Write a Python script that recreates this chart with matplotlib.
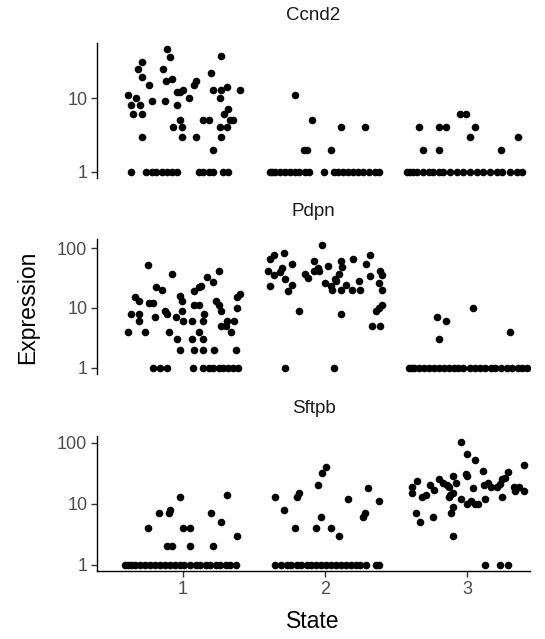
import matplotlib
matplotlib.use('Agg')
import matplotlib.pyplot as plt
from matplotlib.ticker import FixedLocator, NullLocator, FuncFormatter

plt.rcParams['font.family'] = ['Liberation Sans', 'DejaVu Sans']

genes = ['Ccnd2', 'Pdpn', 'Sftpb']
states = [1, 2, 3]

# jittered state position and expression, one pair of lists per gene
ccnd2_x = [0.89, 0.91, 0.71, 0.68, 0.86, 0.71, 0.76, 0.88, 0.92, 1.09, 1.08, 0.98, 1.00, 0.96,
           0.61, 0.67, 0.63, 0.70, 0.78, 0.87, 0.96, 1.04, 0.65, 0.71, 1.20, 1.27, 1.21, 1.27,
           1.31, 1.40, 1.26, 1.32, 1.29, 0.98, 0.93, 0.99, 1.14, 1.18, 1.33, 1.35, 1.26, 1.31,
           0.71, 0.99, 1.09, 1.27, 1.21,
           0.63, 0.74, 0.78, 0.81, 0.85, 0.89, 0.92, 0.96, 1.11, 1.14, 1.18, 1.21, 1.28, 1.32,
           1.79, 1.91, 2.11, 2.28, 1.85, 1.87, 2.04,
           1.61, 1.63, 1.65, 1.68, 1.72, 1.75, 1.79, 1.82, 1.86, 1.89, 1.99, 2.06, 2.09, 2.13,
           2.16, 2.20, 2.23, 2.27, 2.31, 2.35, 2.38,
           2.66, 2.80, 2.85, 2.95, 2.99, 3.06, 3.02, 3.36, 2.69, 2.80, 3.24,
           2.58, 2.60, 2.62, 2.65, 2.69, 2.73, 2.76, 2.80, 2.83, 2.88, 2.93, 2.97, 3.02, 3.07,
           3.11, 3.16, 3.21, 3.25, 3.30, 3.35, 3.39]
ccnd2_y = [46, 36, 31, 25, 25, 19, 15, 17, 18, 17, 15, 12, 13, 12,
           11, 10, 8, 8, 9, 9, 8, 10, 6, 6, 22, 37, 13, 13,
           14, 13, 10, 7, 6, 5, 4, 4, 5, 5, 5, 5, 4, 4,
           3, 3, 3, 3, 2,
           1, 1, 1, 1, 1, 1, 1, 1, 1, 1, 1, 1, 1, 1,
           11, 5, 4, 4, 2, 2, 2,
           1, 1, 1, 1, 1, 1, 1, 1, 1, 1, 1, 1, 1, 1,
           1, 1, 1, 1, 1, 1, 1,
           4, 4, 4, 6, 6, 4, 3, 3, 2, 2, 2,
           1, 1, 1, 1, 1, 1, 1, 1, 1, 1, 1, 1, 1, 1,
           1, 1, 1, 1, 1, 1, 1]

pdpn_x = [0.75, 0.92, 1.25, 1.17, 1.21, 1.13, 1.11, 1.08, 0.81, 0.85, 0.98, 0.99, 0.66, 0.69,
          0.76, 0.79, 1.11, 1.08, 1.23, 1.25, 1.27, 1.40, 1.38, 1.38, 0.87, 0.89, 0.99, 0.63,
          0.69, 0.80, 0.95, 1.00, 1.06, 1.15, 1.14, 0.69, 1.31, 1.36, 1.27, 1.30, 0.61, 0.73,
          0.90, 1.11, 1.34, 0.96, 1.06, 1.14, 0.98, 1.08, 1.14, 1.22, 1.37,
          0.79, 0.84, 0.89, 1.07, 1.14, 1.18, 1.21, 1.25, 1.28, 1.32, 1.35, 1.39,
          1.98, 1.61, 1.64, 1.71, 1.77, 1.60, 1.64, 1.68, 1.70, 1.61, 1.72, 1.77, 1.74, 1.86,
          1.88, 1.92, 1.92, 1.95, 1.96, 2.02, 2.00, 2.11, 2.12, 2.10, 2.07, 2.08, 2.04, 2.05,
          2.11, 2.15, 2.20, 2.19, 2.24, 2.25, 2.29, 2.32, 2.32, 2.38, 2.39, 2.40, 2.40, 2.38,
          2.40, 2.36, 2.33, 2.39, 1.82, 2.11, 1.72, 2.06,
          2.79, 2.85, 2.80, 3.04, 3.30,
          2.59, 2.61, 2.63, 2.66, 2.70, 2.73, 2.77, 2.80, 2.84, 2.87, 2.91, 2.94, 2.97, 3.02,
          3.06, 3.09, 3.13, 3.17, 3.20, 3.24, 3.28, 3.32, 3.36, 3.39, 3.42]
pdpn_y = [52, 37, 41, 33, 27, 23, 22, 19, 22, 20, 16, 13, 15, 13,
          12, 12, 11, 11, 13, 11, 9, 17, 15, 10, 9, 8, 9, 8,
          8, 7, 7, 6, 6, 8, 6, 6, 6, 6, 5, 5, 4, 4,
          4, 4, 4, 3, 3, 3, 2, 2, 2, 2, 2,
          1, 1, 1, 1, 1, 1, 1, 1, 1, 1, 1, 1,
          112, 67, 78, 83, 55, 41, 36, 40, 46, 23, 31, 24, 19, 37,
          32, 42, 62, 47, 41, 50, 26, 62, 48, 37, 31, 28, 23, 20,
          20, 24, 66, 20, 28, 20, 55, 76, 34, 26, 41, 36, 20, 10,
          11, 9, 5, 5, 9, 8, 1, 1,
          7, 6, 3, 10, 4,
          1, 1, 1, 1, 1, 1, 1, 1, 1, 1, 1, 1, 1, 1,
          1, 1, 1, 1, 1, 1, 1, 1, 1, 1, 1]

sftpb_x = [0.98, 1.31, 0.83, 0.90, 0.91, 1.20, 1.27, 0.75, 1.00, 1.05, 1.38, 0.89, 0.92, 1.05,
           1.21,
           0.59, 0.61, 0.63, 0.66, 0.70, 0.73, 0.77, 0.80, 0.84, 0.87, 0.91, 0.94, 0.98, 1.01,
           1.05, 1.09, 1.12, 1.16, 1.19, 1.23, 1.26, 1.30, 1.33, 1.37,
           1.65, 1.71, 1.80, 1.82, 1.95, 1.98, 2.01, 1.97, 1.79, 1.94, 2.04, 2.10, 2.16, 2.30,
           2.38, 2.28, 2.27,
           1.65, 1.69, 1.73, 1.76, 1.80, 1.83, 1.87, 1.90, 1.94, 1.97, 2.01, 2.04, 2.08, 2.11,
           2.15, 2.18, 2.22, 2.25, 2.29, 2.36, 2.38,
           2.96, 3.00, 3.06, 3.11, 3.40, 2.99, 3.00, 2.90, 2.92, 2.80, 2.83, 2.86, 2.87, 2.74,
           2.77, 2.65, 2.61, 2.61, 2.68, 2.71, 2.87, 2.90, 2.88, 2.96, 3.00, 3.03, 3.06, 3.08,
           3.04, 3.13, 3.12, 3.15, 3.17, 3.21, 3.23, 3.25, 3.27, 3.29, 3.25, 3.33, 3.34, 3.37,
           3.40, 2.64, 2.67, 2.76, 2.89, 2.90, 2.90,
           3.13, 3.23, 3.29]
sftpb_y = [13, 14, 7, 7, 8, 7, 5, 4, 4, 4, 3, 2, 2, 2,
           2,
           1, 1, 1, 1, 1, 1, 1, 1, 1, 1, 1, 1, 1, 1,
           1, 1, 1, 1, 1, 1, 1, 1, 1, 1,
           13, 8, 13, 15, 20, 32, 40, 6, 4, 4, 4, 3, 12, 18,
           11, 7, 6,
           1, 1, 1, 1, 1, 1, 1, 1, 1, 1, 1, 1, 1, 1,
           1, 1, 1, 1, 1, 1, 1,
           102, 65, 52, 35, 43, 31, 29, 29, 22, 25, 22, 20, 19, 20,
           17, 24, 19, 15, 13, 14, 13, 15, 14, 12, 10, 11, 10, 10,
           18, 12, 20, 22, 19, 19, 21, 25, 26, 33, 13, 19, 16, 19,
           16, 7, 5, 6, 7, 9, 3,
           1, 1, 1]

data = {'Ccnd2': (ccnd2_x, ccnd2_y), 'Pdpn': (pdpn_x, pdpn_y), 'Sftpb': (sftpb_x, sftpb_y)}

W, H = 545, 639
fig = plt.figure(figsize=(W / 100, H / 100), dpi=100)

left, right = 97, 530
tops = [43, 239, 436]
ph = 135
grey30 = '#4D4D4D'

for i, g in enumerate(genes):
    ax = fig.add_axes([left / W, 1 - (tops[i] + ph) / H, (right - left) / W, ph / H])
    x, y = data[g]
    ax.scatter(x, y, s=30, color='black', linewidths=0, zorder=3)
    ax.set_yscale('log')
    ax.set_xlim(0.394, 3.444)
    ax.margins(y=0.05)
    ymax = max(y)
    ticks = [t for t in [1, 10, 100] if t <= ymax * 1.1]
    ax.yaxis.set_major_locator(FixedLocator(ticks))
    ax.yaxis.set_minor_locator(NullLocator())
    ax.yaxis.set_major_formatter(FuncFormatter(lambda v, p: '%g' % v))
    for s in ['top', 'right']:
        ax.spines[s].set_visible(False)
    ax.spines['left'].set_linewidth(1.0)
    ax.spines['bottom'].set_linewidth(1.0)
    ax.tick_params(axis='y', length=4, width=1.0, color='#333333', labelsize=13,
                   labelcolor=grey30, pad=3)
    ax.set_xticks(states)
    if i < 2:
        ax.spines['bottom'].set_visible(False)
        ax.tick_params(axis='x', bottom=False, labelbottom=False)
    else:
        ax.tick_params(axis='x', length=4, width=1.0, color='#333333', labelsize=13,
                       labelcolor=grey30, pad=3)
    ax.annotate(g, xy=(0.5, 1), xycoords='axes fraction', xytext=(0, 20),
                textcoords='offset points', ha='center', va='center',
                fontsize=13.5, color='#1A1A1A')

fig.text(28 / W, 1 - 307 / H, 'Expression', rotation=90, ha='center', va='center', fontsize=16.5)
fig.text(313 / W, 1 - 622 / H, 'State', ha='center', va='center', fontsize=16.5)

fig.savefig('out.png', dpi=100)
